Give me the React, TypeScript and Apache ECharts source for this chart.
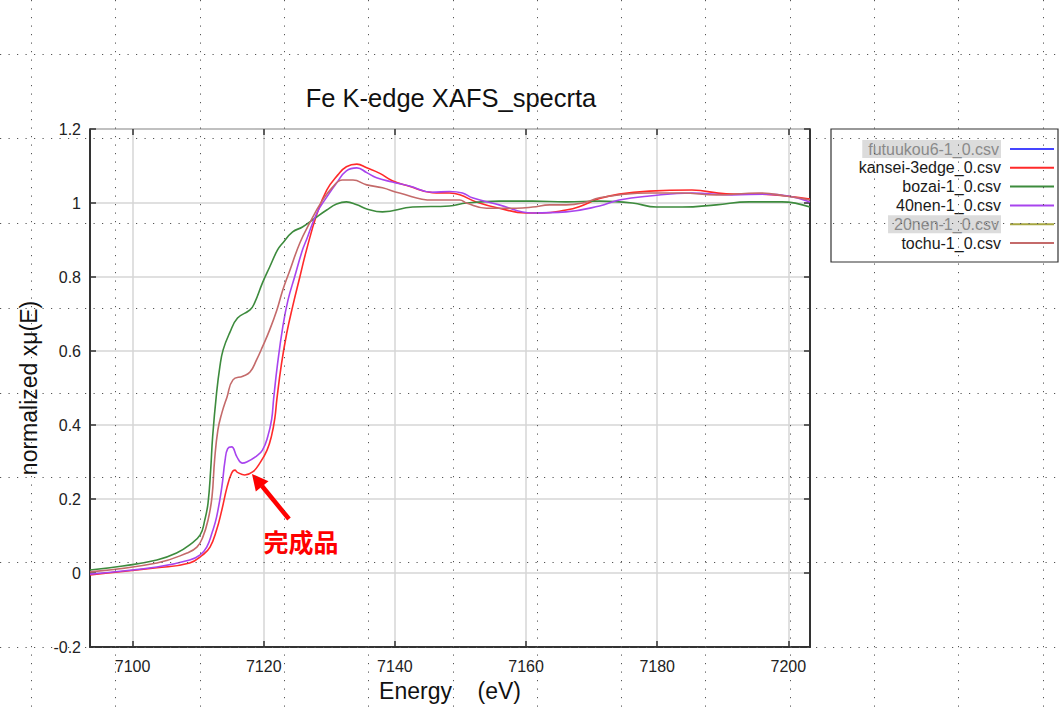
import React, { useEffect, useRef } from "react";
import * as echarts from "echarts";

// ---- data ----
const kanseiE = [7093.5, 7103.7, 7108.7, 7110.7, 7111.8, 7112.8, 7113.6, 7114.4, 7115.1, 7115.6, 7116.0, 7117.1, 7118.3, 7119.4, 7120.5, 7121.2, 7121.7, 7122.0, 7122.7, 7123.5, 7124.4, 7125.5, 7126.5, 7128.1, 7129.6, 7131.3, 7132.6, 7134.2, 7135.7, 7137.7, 7139.6, 7142.2, 7145.7, 7148.3, 7149.9, 7152.4, 7155.9, 7160.0, 7162.5, 7166.1, 7168.1, 7171.2, 7174.2, 7178.8, 7185.3, 7190.5, 7195.5, 7199.6, 7203.3];
const kanseiMu = [-0.005, 0.014, 0.027, 0.049, 0.07, 0.116, 0.17, 0.232, 0.27, 0.278, 0.272, 0.265, 0.273, 0.297, 0.332, 0.372, 0.42, 0.47, 0.565, 0.648, 0.72, 0.8, 0.872, 0.97, 1.035, 1.076, 1.098, 1.105, 1.095, 1.08, 1.06, 1.045, 1.028, 1.027, 1.022, 1.003, 0.986, 0.973, 0.973, 0.981, 0.99, 1.012, 1.024, 1.032, 1.035, 1.025, 1.024, 1.019, 1.011];

const bozaiE = [7093.5, 7098.5, 7103.7, 7106.7, 7108.7, 7110.3, 7111.0, 7111.5, 7111.9, 7112.2, 7112.8, 7113.3, 7113.8, 7114.8, 7116.0, 7117.9, 7118.6, 7119.8, 7120.9, 7122.1, 7122.9, 7124.4, 7125.9, 7127.8, 7129.6, 7131.1, 7132.6, 7134.2, 7135.7, 7138.1, 7142.7, 7148.3, 7150.9, 7155.9, 7161.0, 7166.1, 7171.2, 7176.2, 7179.9, 7183.8, 7189.0, 7194.0, 7199.0, 7203.3];
const bozaiMu = [0.008, 0.019, 0.035, 0.054, 0.076, 0.103, 0.143, 0.189, 0.278, 0.368, 0.486, 0.557, 0.603, 0.649, 0.689, 0.711, 0.73, 0.784, 0.827, 0.873, 0.892, 0.922, 0.935, 0.959, 0.981, 0.997, 1.003, 0.995, 0.984, 0.976, 0.989, 0.992, 1.0, 1.005, 1.005, 1.003, 1.005, 1.0, 0.989, 0.989, 0.995, 1.003, 1.003, 0.989];

const nen40E = [7093.5, 7103.7, 7108.7, 7110.3, 7111.3, 7112.1, 7112.8, 7113.6, 7114.1, 7114.5, 7115.1, 7115.9, 7116.7, 7117.4, 7118.9, 7119.8, 7120.6, 7121.2, 7121.5, 7122.1, 7122.9, 7123.7, 7124.7, 7125.9, 7126.5, 7128.1, 7129.6, 7131.1, 7132.6, 7134.2, 7135.7, 7137.2, 7139.6, 7142.2, 7145.7, 7148.3, 7150.3, 7151.8, 7155.9, 7161.0, 7166.1, 7171.2, 7174.2, 7178.8, 7185.3, 7191.4, 7196.6, 7200.0, 7203.3];
const nen40Mu = [-0.003, 0.016, 0.035, 0.049, 0.07, 0.108, 0.151, 0.232, 0.305, 0.336, 0.341, 0.314, 0.297, 0.3, 0.316, 0.332, 0.368, 0.415, 0.47, 0.565, 0.665, 0.738, 0.8, 0.873, 0.9, 0.973, 1.016, 1.054, 1.087, 1.095, 1.082, 1.068, 1.057, 1.046, 1.029, 1.031, 1.027, 1.014, 0.995, 0.973, 0.976, 0.992, 1.008, 1.019, 1.027, 1.022, 1.024, 1.019, 1.003];

const tochuE = [7093.5, 7103.7, 7108.3, 7109.8, 7110.7, 7111.5, 7112.1, 7112.5, 7113.0, 7113.6, 7114.4, 7115.3, 7116.8, 7117.9, 7118.9, 7119.8, 7120.9, 7122.0, 7122.9, 7124.0, 7125.5, 7127.0, 7128.8, 7130.5, 7132.0, 7133.6, 7135.7, 7138.1, 7140.7, 7145.7, 7149.9, 7150.9, 7154.0, 7158.5, 7161.0, 7163.6, 7166.1, 7168.6, 7171.2, 7174.2, 7178.8, 7183.8, 7189.0, 7195.5, 7199.6, 7203.3];
const tochuMu = [0.003, 0.027, 0.054, 0.07, 0.097, 0.143, 0.205, 0.305, 0.386, 0.432, 0.476, 0.522, 0.532, 0.543, 0.576, 0.611, 0.657, 0.711, 0.765, 0.819, 0.892, 0.946, 1.003, 1.043, 1.062, 1.062, 1.049, 1.041, 1.027, 1.008, 1.008, 1.0, 0.986, 0.986, 0.989, 0.995, 0.995, 1.0, 1.014, 1.022, 1.027, 1.027, 1.022, 1.027, 1.019, 1.008];

const legendNames = ["futuukou6-1_0.csv", "kansei-3edge_0.csv", "bozai-1_0.csv", "40nen-1_0.csv", "20nen-1_0.csv", "tochu-1_0.csv"];
const legendColors = ["#4545ff", "#ff2a2a", "#3d8b3d", "#a844ee", "#a6a640", "#c46a6a"];
const legendHidden = [true, false, false, false, true, false];

const titleText = "Fe K-edge XAFS_specrta";
const xName = "Energy    (eV)";
const yName = "normalized xμ(E)";
const noteText = "完成品";

const FONT = "'Liberation Sans', Arial, sans-serif";

function pairs(xs: number[], ys: number[]) {
  return xs.map((x, i) => [x, ys[i]]);
}

export default function App() {
  const ref = useRef<HTMLDivElement>(null);
  useEffect(() => {
    const chart = echarts.init(ref.current!, null, { renderer: "svg" });

    const graphics: any[] = [];
    // legend box
    graphics.push({
      type: "rect",
      shape: { x: 831, y: 129, width: 227, height: 133 },
      style: { fill: "#fff", stroke: "#333", lineWidth: 1.2 },
      z: 10,
    });
    legendNames.forEach((name, i) => {
      const y = 149 + 18.8 * i;
      const hidden = legendHidden[i];
      graphics.push({
        type: "text",
        x: 1001,
        y,
        z: 11,
        style: {
          text: name,
          align: "right",
          verticalAlign: "middle",
          fontSize: 16,
          fontFamily: FONT,
          fill: hidden ? "#8a8a8a" : "#1a1a1a",
          backgroundColor: hidden ? "#dcdcdc" : undefined,
          padding: hidden ? [1, 2, 1, 6] : 0,
        },
      });
      graphics.push({
        type: "line",
        z: 11,
        shape: { x1: 1010, y1: y, x2: 1054, y2: y },
        style: { stroke: legendColors[i], lineWidth: 2 },
      });
    });
    // annotation arrow + text
    graphics.push({
      type: "line",
      z: 12,
      shape: { x1: 289, y1: 519, x2: 262, y2: 486 },
      style: { stroke: "#ff0000", lineWidth: 4.5 },
    });
    graphics.push({
      type: "polygon",
      z: 12,
      shape: { points: [[252, 474], [268.5, 481.2], [255.8, 491.6]] },
      style: { fill: "#ff0000" },
    });
    graphics.push({
      type: "text",
      z: 12,
      x: 301,
      y: 541,
      style: {
        text: noteText,
        align: "center",
        verticalAlign: "middle",
        fontSize: 25,
        fontWeight: "bold",
        fontFamily: "'Noto Sans CJK JP', sans-serif",
        fill: "#ff0000",
      },
    });
    // dotted overlay grid of the screenshot
    for (let k = 0; k < 13; k++) {
      const x = Math.round(31 + 84.3 * k) + 0.5;
      graphics.push({
        type: "line",
        z: 50,
        silent: true,
        shape: { x1: x, y1: 0, x2: x, y2: 709 },
        style: { stroke: "#555", lineWidth: 1, lineDash: [1.2, 7.3] },
      });
    }
    for (let k = 0; k < 8; k++) {
      const y = Math.round(53.5 + 84.75 * k) + 0.5;
      graphics.push({
        type: "line",
        z: 50,
        silent: true,
        shape: { x1: 0, y1: y, x2: 1059, y2: y },
        style: { stroke: "#555", lineWidth: 1, lineDash: [1.2, 7.3] },
      });
    }

    const tickStyle = { color: "#333", width: 1.5 };
    const lineSeries = (name: string, xs: number[], ys: number[], color: string) => ({
      name,
      type: "line",
      data: pairs(xs, ys),
      showSymbol: false,
      symbol: "none",
      smooth: 0.45,
      clip: true,
      lineStyle: { color, width: 1.6 },
      itemStyle: { color },
      z: 3,
    });

    const option: any = {
      animation: false,
      backgroundColor: "#fff",
      title: {
        text: titleText,
        left: 451,
        top: 85,
        padding: 0,
        textAlign: "center",
        textStyle: { fontSize: 25.5, fontWeight: "normal", color: "#111", fontFamily: FONT },
      },
      grid: { left: 90, top: 129, width: 720, height: 518, show: false },
      xAxis: [
        {
          type: "value",
          position: "bottom",
          min: 7093.5,
          max: 7203.3,
          splitNumber: 5,
          name: xName,
          nameLocation: "middle",
          nameGap: 32,
          nameTextStyle: { fontSize: 23, color: "#111", fontFamily: FONT },
          axisLine: { show: true, onZero: false, lineStyle: { color: "#333", width: 2 } },
          axisTick: { show: true, inside: true, length: 6, lineStyle: tickStyle },
          axisLabel: {
            formatter: (v: number) => String(v),
            showMinLabel: false,
            showMaxLabel: false,
            fontSize: 16,
            color: "#222",
            margin: 11,
            fontFamily: FONT,
          },
          splitLine: { show: true, lineStyle: { color: "#d6d6d6", width: 1.5 } },
        },
        {
          type: "value",
          position: "top",
          min: 7093.5,
          max: 7203.3,
          splitNumber: 5,
          axisLine: { show: true, onZero: false, lineStyle: { color: "#b5b5b5", width: 1.5 } },
          axisTick: { show: true, inside: true, length: 6, lineStyle: tickStyle },
          axisLabel: { show: false },
          splitLine: { show: false },
        },
      ],
      yAxis: [
        {
          type: "value",
          position: "left",
          min: -0.2,
          max: 1.2,
          interval: 0.2,
          name: yName,
          nameLocation: "middle",
          nameGap: 50,
          nameRotate: 90,
          nameTextStyle: { fontSize: 23, color: "#111", fontFamily: FONT },
          axisLine: { show: true, onZero: false, lineStyle: { color: "#333", width: 2 } },
          axisTick: { show: true, inside: true, length: 6, lineStyle: tickStyle },
          axisLabel: {
            formatter: (v: number) => String(Math.round(v * 10) / 10),
            fontSize: 16,
            color: "#222",
            margin: 9,
            fontFamily: FONT,
          },
          splitLine: { show: true, lineStyle: { color: "#d6d6d6", width: 1.5 } },
        },
        {
          type: "value",
          position: "right",
          min: -0.2,
          max: 1.2,
          interval: 0.2,
          axisLine: { show: true, onZero: false, lineStyle: { color: "#333", width: 2 } },
          axisTick: { show: true, inside: true, length: 6, lineStyle: tickStyle },
          axisLabel: { show: false },
          splitLine: { show: false },
        },
      ],
      series: [
        lineSeries(legendNames[1], kanseiE, kanseiMu, legendColors[1]),
        lineSeries(legendNames[2], bozaiE, bozaiMu, legendColors[2]),
        lineSeries(legendNames[3], nen40E, nen40Mu, legendColors[3]),
        lineSeries(legendNames[5], tochuE, tochuMu, legendColors[5]),
      ],
      graphic: graphics,
    };
    chart.setOption(option);
    return () => chart.dispose();
  }, []);
  return (
    <div
      ref={ref}
      style={{ position: "fixed", left: 0, top: 0, width: 1059, height: 709, background: "#fff" }}
    />
  );
}
